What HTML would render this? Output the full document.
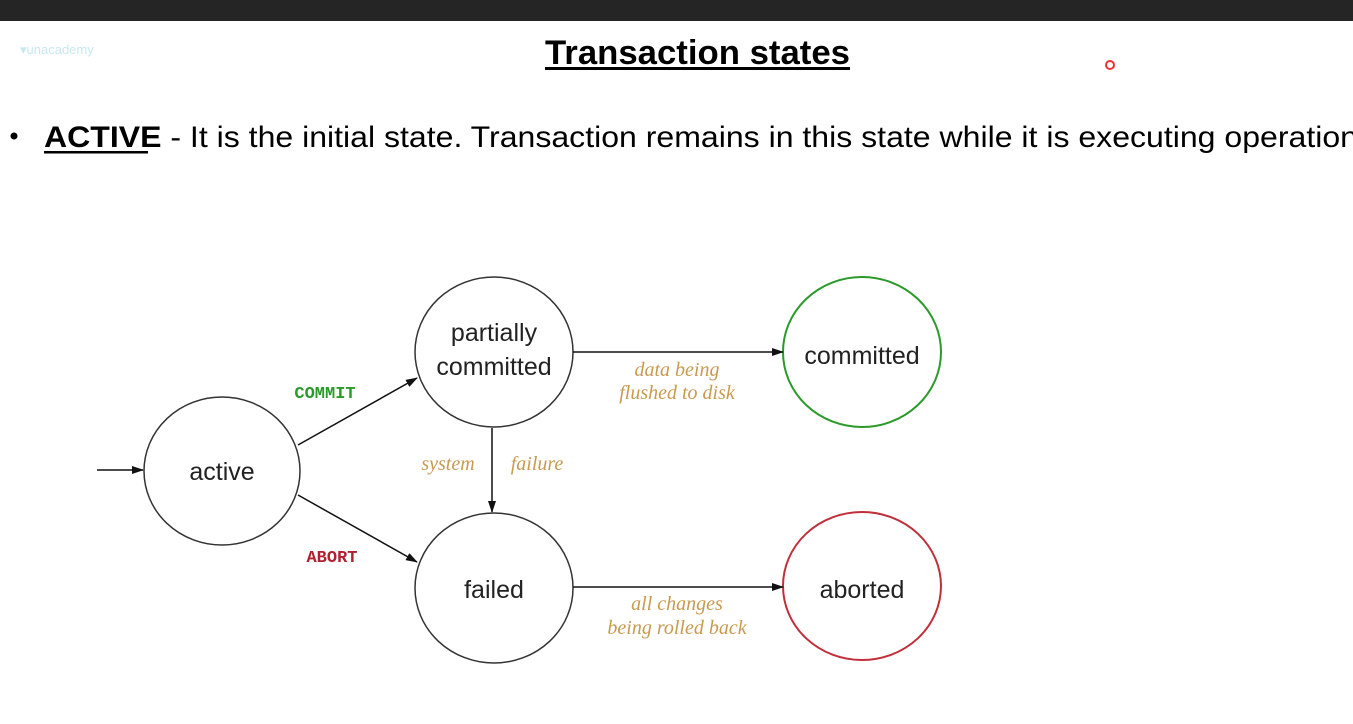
<!DOCTYPE html>
<html><head><meta charset="utf-8"><style>
html,body{margin:0;padding:0;background:#fff;width:1353px;height:724px;overflow:hidden}
</style></head><body>
<svg width="1353" height="724" viewBox="0 0 1353 724" xmlns="http://www.w3.org/2000/svg">
<defs><marker id="a" markerWidth="12" markerHeight="8" refX="11" refY="4" orient="auto" markerUnits="userSpaceOnUse"><path d="M0,0 L12,4 L0,8 z" fill="#111"/></marker></defs>
<rect x="0" y="0" width="1353" height="21" fill="#252526"/>
<text x="20" y="54" font-family="Liberation Sans, sans-serif" font-size="13" fill="#c8e8f0">▾unacademy</text>
<text x="545" y="64" font-family="Liberation Sans, sans-serif" font-weight="bold" font-size="34" textLength="305" lengthAdjust="spacingAndGlyphs" fill="#000">Transaction states</text>
<rect x="545" y="67" width="305" height="3" fill="#000"/>
<circle cx="1110" cy="65" r="4" fill="none" stroke="#e33" stroke-width="2"/>
<circle cx="14" cy="136" r="3.5" fill="#000"/>
<text x="44" y="147" font-family="Liberation Sans, sans-serif" font-size="30" textLength="1330" lengthAdjust="spacingAndGlyphs" fill="#000"><tspan font-weight="bold">ACTIVE</tspan> - It is the initial state. Transaction remains in this state while it is executing operations</text>
<rect x="44" y="151" width="104" height="2.5" fill="#000"/>
<g fill="none" stroke="#333" stroke-width="1.5">
<ellipse cx="222" cy="471" rx="78" ry="74"/>
<ellipse cx="494" cy="352" rx="79" ry="75"/>
<ellipse cx="494" cy="588" rx="79" ry="75"/>
<ellipse cx="862" cy="352" rx="79" ry="75" stroke="#2a9a2a" stroke-width="2"/>
<ellipse cx="862" cy="586" rx="79" ry="74" stroke="#c0303a" stroke-width="2"/>
<g stroke="#111" marker-end="url(#a)">
<line x1="97" y1="470" x2="143" y2="470"/>
<line x1="298" y1="445" x2="417" y2="378"/>
<line x1="298" y1="495" x2="417" y2="562"/>
<line x1="492" y1="428" x2="492" y2="512"/>
<line x1="573" y1="352" x2="783" y2="352"/>
<line x1="573" y1="587" x2="783" y2="587"/>
</g></g>
<g font-family="Liberation Sans, sans-serif" font-size="25" fill="#222" text-anchor="middle">
<text x="222" y="480">active</text>
<text x="494" y="341">partially</text>
<text x="494" y="375">committed</text>
<text x="494" y="598">failed</text>
<text x="862" y="364">committed</text>
<text x="862" y="598">aborted</text>
</g>
<g font-family="Liberation Mono, monospace" font-weight="bold" font-size="17" text-anchor="middle">
<text x="325" y="398" fill="#2a9a2a">COMMIT</text>
<text x="332" y="562" fill="#b02030">ABORT</text>
</g>
<g font-family="Liberation Serif, serif" font-style="italic" font-size="20" fill="#c89a50" text-anchor="middle">
<text x="448" y="470">system</text>
<text x="537" y="470">failure</text>
<text x="677" y="376">data being</text>
<text x="677" y="399">flushed to disk</text>
<text x="677" y="610">all changes</text>
<text x="677" y="634">being rolled back</text>
</g>
</svg>
</body></html>
